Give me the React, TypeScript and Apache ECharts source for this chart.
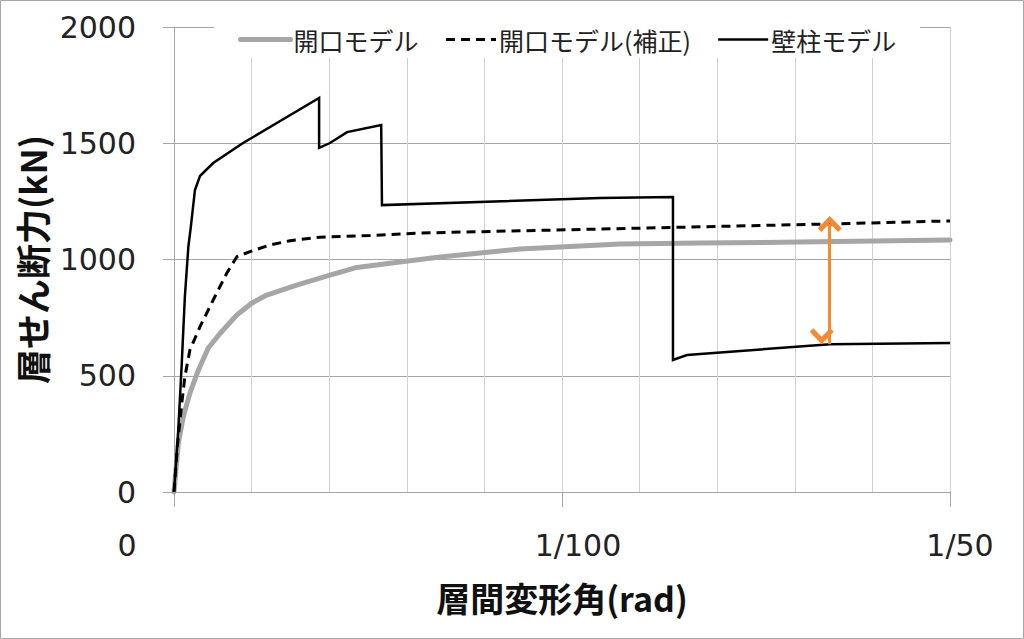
import { useEffect, useRef } from 'react'
import * as echarts from 'echarts'

// 層間変形角 (rad) / 層せん断力 (kN)
const KAIKO_X = [0, 0.00011, 0.00024, 0.00041, 0.00063, 0.00088, 0.00119, 0.00162, 0.002, 0.00239, 0.00316, 0.00402, 0.00471, 0.00582, 0.00686, 0.00892, 0.0115, 0.01356, 0.01613, 0.02]
const KAIKO_Y = [0, 209, 324, 425, 525, 618, 683, 761, 812, 847, 890, 933, 966, 989, 1011, 1045, 1067, 1071, 1075, 1084]

const HOSEI_X = [0, 0.000086, 0.0002, 0.00028, 0.00041, 0.00067, 0.00101, 0.00136, 0.00162, 0.00196, 0.00247, 0.00299, 0.00376, 0.00505, 0.00634, 0.01098, 0.01691, 0.02]
const HOSEI_Y = [0, 195, 381, 496, 611, 711, 826, 941, 1012, 1034, 1062, 1081, 1096, 1103, 1114, 1131, 1153, 1166]

const HEKICHU_X = [0, 0.00011, 0.0002, 0.00028, 0.00037, 0.00043, 0.00054, 0.00067, 0.00101, 0.00178, 0.00265, 0.00374, 0.00374, 0.00402, 0.00446, 0.00534, 0.00536, 0.01098, 0.01286, 0.01286, 0.01322, 0.01691, 0.02]
const HEKICHU_Y = [0, 267, 553, 840, 1055, 1135, 1299, 1359, 1415, 1501, 1587, 1695, 1480, 1501, 1548, 1578, 1234, 1264, 1269, 568, 589, 636, 641]

const SERIES_NAMES = ['開口モデル', '開口モデル(補正)', '壁柱モデル']
const X_TICKS = [0, 0.01, 0.02]
const X_TICK_LABELS = ['0', '1/100', '1/50']
// arrow between 補正 and 壁柱 at R = 0.017
const ARROW_X = 0.0169
const ARROW_Y = [1153, 636]

const zip = (xs: number[], ys: number[]) => xs.map((x, i) => [x, ys[i]])

export default function App() {
  const ref = useRef<HTMLDivElement>(null)

  useEffect(() => {
    if (!ref.current) return
    const chart = echarts.init(ref.current, null, { renderer: 'svg' })

    const numFont = 'DejaVu Sans'
    const jpFont = '"Noto Sans CJK JP", sans-serif'
    const chevron = 'path://M10,0 L20,10 L17,13 L10,6 L3,13 L0,10 Z'

    chart.setOption({
      animation: false,
      backgroundColor: '#fff',
      graphic: [
        {
          type: 'rect',
          silent: true,
          shape: { x: 0.5, y: 0.5, width: 1023, height: 638 },
          style: { fill: 'none', stroke: '#a6a6a6', lineWidth: 1 },
        },
      ],
      grid: { left: 174, right: 74, top: 27, bottom: 147, outerBoundsMode: 'none' },
      legend: {
        left: 214,
        top: 21,
        padding: [6, 24, 6, 24],
        backgroundColor: '#fff',
        itemWidth: 50,
        itemHeight: 14,
        itemGap: 26,
        itemStyle: { opacity: 0 },
        lineStyle: { width: 'inherit' },
        textStyle: { fontFamily: jpFont, fontSize: 25, color: '#222', padding: [0, 0, 0, -2] },
        data: SERIES_NAMES,
      },
      xAxis: {
        type: 'value',
        min: 0,
        max: 0.02,
        interval: 0.01,
        name: '層間変形角(rad)',
        nameLocation: 'middle',
        nameGap: 88,
        nameTextStyle: { fontFamily: jpFont, fontSize: 34, fontWeight: 'bold', color: '#111' },
        axisLine: { lineStyle: { color: '#a6a6a6', width: 1 } },
        axisTick: { show: true, length: 15, lineStyle: { color: '#a6a6a6' } },
        minorTick: { show: false, splitNumber: 5 },
        splitLine: { show: true, lineStyle: { color: '#d0d0d0', width: 1 } },
        minorSplitLine: { show: true, lineStyle: { color: '#d0d0d0', width: 1 } },
        axisLabel: {
          margin: 38,
          formatter: (v: number) => {
            const i = X_TICKS.findIndex((t) => Math.abs(t - v) < 1e-9)
            if (i < 0) return ''
            return `{t${i}|${X_TICK_LABELS[i]}}`
          },
          rich: {
            t0: { fontFamily: numFont, fontSize: 30, color: '#222', padding: [0, 94, 0, 0] },
            t1: { fontFamily: numFont, fontSize: 30, color: '#222', padding: [0, 0, 0, 32] },
            t2: { fontFamily: numFont, fontSize: 30, color: '#222', padding: [0, 0, 0, 20] },
          },
        },
      },
      yAxis: {
        type: 'value',
        min: 0,
        max: 2000,
        interval: 500,
        name: '層せん断力(kN)',
        nameLocation: 'middle',
        nameGap: 98,
        nameTextStyle: { fontFamily: jpFont, fontSize: 35, fontWeight: 'bold', color: '#111' },
        axisLine: { show: true, lineStyle: { color: '#a6a6a6', width: 1 } },
        axisTick: { show: true, length: 11, lineStyle: { color: '#a6a6a6' } },
        splitLine: { show: true, lineStyle: { color: '#a6a6a6', width: 1 } },
        axisLabel: {
          margin: 38,
          fontFamily: numFont,
          fontSize: 30,
          color: '#222',
          formatter: (v: number) => String(v),
        },
      },
      series: [
        {
          name: SERIES_NAMES[0],
          type: 'line',
          symbol: 'none',
          data: zip(KAIKO_X, KAIKO_Y),
          lineStyle: { color: '#a6a6a6', width: 5, cap: 'round', join: 'round' },
          itemStyle: { color: '#a6a6a6' },
          z: 2,
        },
        {
          name: SERIES_NAMES[1],
          type: 'line',
          symbol: 'none',
          data: zip(HOSEI_X, HOSEI_Y),
          lineStyle: { color: '#000', width: 3, type: [9, 6] },
          itemStyle: { color: '#000' },
          z: 3,
        },
        {
          name: SERIES_NAMES[2],
          type: 'line',
          symbol: 'none',
          data: zip(HEKICHU_X, HEKICHU_Y),
          lineStyle: { color: '#000', width: 2.5, join: 'miter' },
          itemStyle: { color: '#000' },
          z: 4,
          markLine: {
            silent: true,
            symbol: [chevron, chevron],
            symbolSize: [24, 16],
            symbolOffset: [0, 8],
            label: { show: false },
            lineStyle: { color: '#F58A2F', width: 3, type: 'solid' },
            data: [[{ coord: [ARROW_X, ARROW_Y[0]] }, { coord: [ARROW_X, ARROW_Y[1]] }]],
          },
        },
      ],
    })

    return () => {
      chart.dispose()
    }
  }, [])

  return (
    <div
      ref={ref}
      style={{ position: 'absolute', left: 0, top: 0, width: 1024, height: 639 }}
    />
  )
}
